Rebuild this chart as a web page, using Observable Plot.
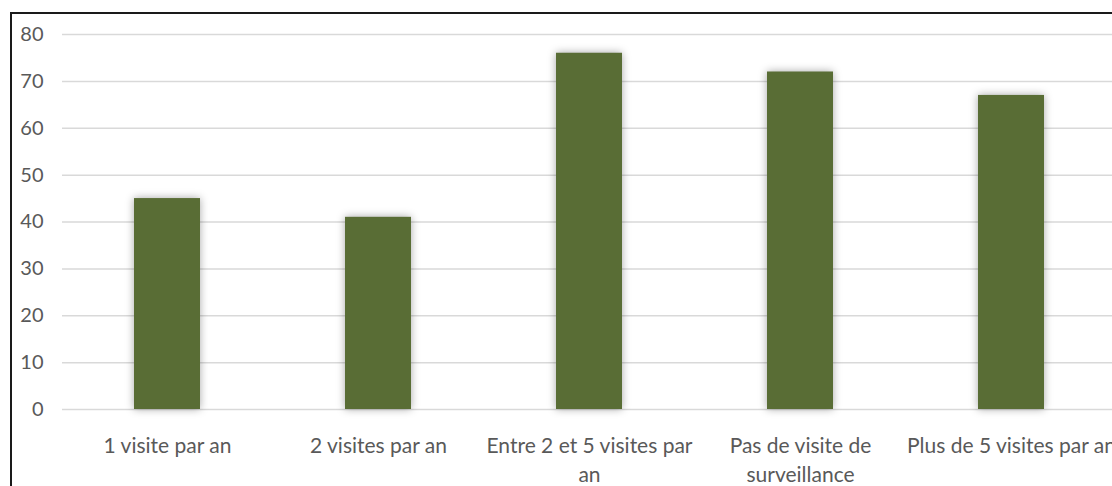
<!DOCTYPE html>
<html>
<head>
<meta charset="utf-8">
<script src="https://cdn.jsdelivr.net/npm/d3@7"></script>
<script src="https://cdn.jsdelivr.net/npm/@observablehq/plot@0.6"></script>
<style>
  html, body { margin: 0; padding: 0; background: #fff; }
  #wrap { position: relative; width: 1112px; height: 486px; overflow: hidden; background: #fff; }
  #frame { position: absolute; left: 10px; top: 12px; width: 1300px; height: 700px; border: 2px solid #1a1a1a; box-sizing: border-box; }
  #chart { position: absolute; left: 0; top: 0; }
</style>
</head>
<body>
<div id="wrap"><div id="frame"></div><div id="chart"></div></div>
<script>
const categories = ["1 visite par an", "2 visites par an", "Entre 2 et 5 visites par an", "Pas de visite de surveillance", "Plus de 5 visites par an"];
const values = [45, 41, 76, 72, 67];
const tickLabels = ["1 visite par an", "2 visites par an", "Entre 2 et 5 visites par\nan", "Pas de visite de\nsurveillance", "Plus de 5 visites par an"];
const yTicks = [0, 10, 20, 30, 40, 50, 60, 70, 80];

const data = categories.map((c, i) => ({category: c, value: values[i]}));
const labelOf = new Map(categories.map((c, i) => [c, tickLabels[i]]));

const plot = Plot.plot({
  width: 1112,
  height: 486,
  marginLeft: 62,
  marginRight: 0,
  marginTop: 34,
  marginBottom: 77,
  style: {fontFamily: "Lato, sans-serif", fontSize: "20px", color: "#595959", background: "transparent", overflow: "visible"},
  x: {domain: categories, range: [62, 1117], paddingInner: 0.687, paddingOuter: 0.3435},
  y: {domain: [0, 80]},
  marks: [
    Plot.gridY(yTicks, {stroke: "#d9d9d9", strokeOpacity: 1, strokeWidth: 1.5}),
    Plot.barY(data, {x: "category", y: "value", fill: "#596d35"}),
    Plot.axisY(yTicks, {tickSize: 0, tickPadding: 19, fill: "#595959", fontSize: 20, label: null}),
    Plot.axisX({tickSize: 0, tickPadding: 23, fill: "#595959", fontSize: 21, lineHeight: 1.38, label: null, tickFormat: d => labelOf.get(d), textOverflow: null})
  ]
});
document.getElementById("chart").appendChild(plot);
const bars = plot.querySelector('g[aria-label="bar"]');
if (bars) bars.style.filter = "drop-shadow(0px 0px 4px rgba(0,0,0,0.35))";
</script>
</body>
</html>
